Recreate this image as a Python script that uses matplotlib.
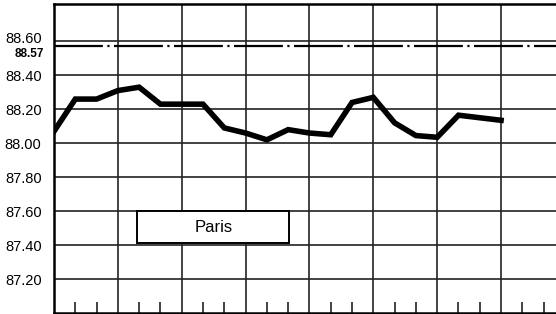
import matplotlib.pyplot as plt
import matplotlib.transforms as mtransforms
import numpy as np

# значения
paris = [88.07, 88.26, 88.26, 88.31, 88.33, 88.23, 88.23, 88.23, 88.09, 88.06,
         88.02, 88.08, 88.06, 88.05, 88.24, 88.27, 88.12, 88.045, 88.035, 88.165,
         88.15, 88.135]
ref_level = 88.57
y_ticks = [87.20, 87.40, 87.60, 87.80, 88.00, 88.20, 88.40, 88.60]
label = "Paris"

plt.rcParams['font.family'] = ['Liberation Sans', 'DejaVu Sans']

fig = plt.figure(figsize=(5.56, 3.14), dpi=100)
ax = fig.add_axes([54 / 556, 1 - 313 / 314, 1 - 54 / 556, 309 / 314])

x = np.arange(len(paris))
ax.set_xlim(0, 23.58)
ax.set_ylim(87.0, 88.82)

# сетка
for xv in range(3, 24, 3):
    ax.axvline(xv, color='#222222', lw=1.2, zorder=1)
for yv in y_ticks:
    ax.axhline(yv, color='#222222', lw=1.2, zorder=1)

ax.axhline(ref_level, color='black', lw=1.6, dashes=(22, 2, 1, 2), zorder=2)
ax.plot(x, paris, color='black', lw=4, solid_joinstyle='miter', zorder=3)

# рамка с подписью
ax.add_patch(plt.Rectangle((3.91, 87.41), 7.13, 0.19, facecolor='white',
                           edgecolor='black', lw=1.4, zorder=4))
ax.text(7.5, 87.505, label, ha='center', va='center', fontsize=12, zorder=5)

ax.set_yticks(y_ticks)
ax.set_yticklabels([f"{v:.2f}" for v in y_ticks], fontsize=10.5)
ax.tick_params(axis='y', length=0, pad=9)
# подпись 88.60 чуть выше, чтобы не наезжала на 88.57
top_lbl = ax.get_yticklabels()[-1]
top_lbl.set_transform(top_lbl.get_transform() +
                      mtransforms.ScaledTranslation(0, 3 / 72, fig.dpi_scale_trans))
ax.text(-0.47, ref_level - 0.01, "88.57", ha='right', va='top', fontsize=8.5,
        fontweight='bold',
        family=['Liberation Sans Narrow', 'Liberation Sans'])

minor = [i for i in range(1, 24) if i % 3 != 0]
ax.set_xticks(minor)
ax.set_xticklabels([])
ax.tick_params(axis='x', direction='in', length=8, width=1.2, color='#222222')

ax.spines['right'].set_visible(False)
for s in ['left', 'top', 'bottom']:
    ax.spines[s].set_linewidth(1.8)

fig.savefig('out.png', dpi=100)
